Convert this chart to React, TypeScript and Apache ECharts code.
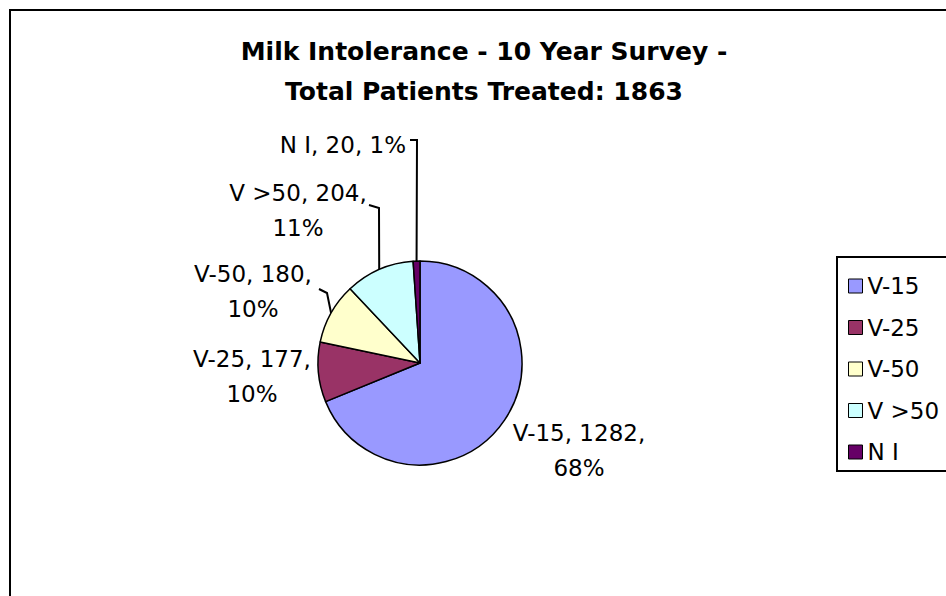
import React, { useEffect, useRef } from 'react';
import * as echarts from 'echarts';

const categories = ['V-15', 'V-25', 'V-50', 'V >50', 'N I'];
const patients = [1282, 177, 180, 204, 20];
const percentLabels = [68, 10, 10, 11, 1];
const sliceColors = ['#9999FF', '#993366', '#FFFFCC', '#CCFFFF', '#660066'];
const titleLines = ['Milk Intolerance - 10 Year Survey -', 'Total Patients Treated: 1863'];

// layout of the pie and its labels (pixels)
const CX = 420;
const CY = 363;
const R = 102;
const labelPlacement = [
  { x: 579, y: 450, align: 'center', oneLine: false, bends: [] as number[][] },
  { x: 252, y: 376, align: 'center', oneLine: false, bends: [] as number[][] },
  { x: 253, y: 291, align: 'center', oneLine: false, bends: [[327, 293], [319, 289]] },
  { x: 298, y: 210, align: 'center', oneLine: false, bends: [[379, 208], [369, 205]] },
  { x: 406, y: 145, align: 'right', oneLine: true, bends: [[417, 140], [410, 140]] },
];

function edgePoint(i: number): number[] {
  const total = patients.reduce((a, b) => a + b, 0);
  let before = 0;
  for (let k = 0; k < i; k++) before += patients[k];
  const midFrac = (before + patients[i] / 2) / total;
  const ang = ((90 - midFrac * 360) * Math.PI) / 180;
  return [CX + R * Math.cos(ang), CY - R * Math.sin(ang)];
}

export default function App() {
  const ref = useRef<HTMLDivElement>(null);
  useEffect(() => {
    if (!ref.current) return;
    const chart = echarts.init(ref.current, undefined, { renderer: 'svg' });
    const lineStyle = { color: '#000000', width: 2, opacity: 1 };
    const option: any = {
      animation: false,
      backgroundColor: '#ffffff',
      title: {
        text: titleLines.join('\n'),
        left: 484,
        top: 31,
        textAlign: 'center',
        padding: 0,
        textStyle: {
          fontFamily: 'DejaVu Sans',
          fontWeight: 'bold',
          fontSize: 25,
          lineHeight: 40,
          color: '#000',
        },
      },
      graphic: [
        {
          type: 'rect',
          silent: true,
          z: -10,
          shape: { x: 10, y: 10, width: 1200, height: 1000 },
          style: { fill: 'none', stroke: '#000', lineWidth: 2 },
        },
        {
          type: 'rect',
          silent: true,
          z: -5,
          shape: { x: 837, y: 257, width: 300, height: 214 },
          style: { fill: '#fff', stroke: '#000', lineWidth: 2 },
        },
      ],
      legend: {
        orient: 'vertical',
        left: 848,
        top: 274,
        padding: 0,
        itemWidth: 14,
        itemHeight: 14,
        itemGap: 17.5,
        icon: 'rect',
        selectedMode: false,
        itemStyle: { borderColor: '#000', borderWidth: 1 },
        textStyle: { fontFamily: 'DejaVu Sans', fontSize: 23, lineHeight: 24, color: '#000' },
        data: categories,
      },
      series: [
        {
          type: 'pie',
          center: [CX, CY],
          radius: R,
          startAngle: 90,
          clockwise: true,
          avoidLabelOverlap: false,
          minShowLabelAngle: 0,
          emphasis: { disabled: true },
          itemStyle: { borderColor: '#000', borderWidth: 1.5 },
          label: {
            show: true,
            position: 'outside',
            fontFamily: 'DejaVu Sans',
            fontSize: 23,
            lineHeight: 35,
            color: '#000',
            formatter: (p: any) => {
              const i = p.dataIndex;
              const sep = labelPlacement[i].oneLine ? ' ' : '\n';
              return `${p.name}, ${p.value},${sep}${percentLabels[i]}%`;
            },
          },
          labelLine: {
            show: true,
            length: 5,
            length2: 5,
            smooth: false,
            lineStyle,
          },
          labelLayout: (params: any) => {
            const i = params.dataIndex;
            const lp = labelPlacement[i];
            const res: any = {
              x: lp.x,
              y: lp.y,
              align: lp.align,
              verticalAlign: 'middle',
            };
            if (lp.bends.length) {
              res.labelLinePoints = [edgePoint(i), ...lp.bends];
            }
            return res;
          },
          data: categories.map((name, i) => ({
            name,
            value: patients[i],
            itemStyle: { color: sliceColors[i] },
            labelLine: { show: labelPlacement[i].bends.length > 0, lineStyle },
          })),
        },
      ],
    };
    chart.setOption(option);
    return () => chart.dispose();
  }, []);
  return (
    <div
      ref={ref}
      style={{ position: 'absolute', left: 0, top: 0, width: 946, height: 596, background: '#fff' }}
    />
  );
}
